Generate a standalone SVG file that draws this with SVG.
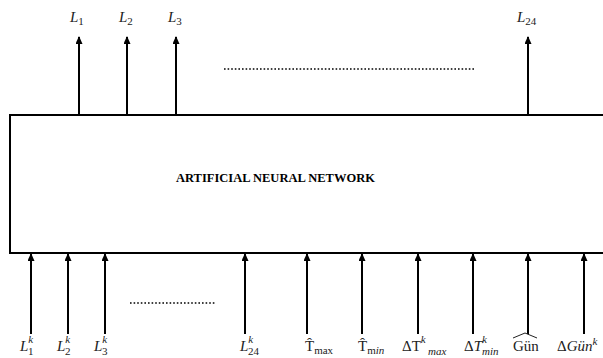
<svg xmlns="http://www.w3.org/2000/svg" width="603" height="358" viewBox="0 0 603 358">
<style>
.ln{stroke:#000;stroke-width:2;fill:none}
.dot{stroke:#000;stroke-width:1.6;stroke-dasharray:1.6 2;fill:none}
.lb{font-family:"Liberation Serif",serif;font-size:15px;fill:#222}
.it{font-style:italic}
.sb{font-size:11px}
.title{font-family:"Liberation Serif",serif;font-size:12.5px;font-weight:bold;fill:#000}
</style>
<defs>
<marker id="ah" viewBox="0 0 8 7" refX="7" refY="3.5" markerWidth="8" markerHeight="7" markerUnits="userSpaceOnUse" orient="auto">
<path d="M0,0 L8,3.5 L0,7 Z" fill="#000"/>
</marker>
</defs>
<g id="ann">
<path class="ln" d="M603,115 H10 V253 H603"/>
<text class="title" x="176" y="182">ARTIFICIAL NEURAL NETWORK</text>
</g>
<g id="connectors">
<line class="ln" x1="79" y1="115" x2="79" y2="37" marker-end="url(#ah)"/>
<line class="ln" x1="127" y1="115" x2="127" y2="37" marker-end="url(#ah)"/>
<line class="ln" x1="176" y1="115" x2="176" y2="37" marker-end="url(#ah)"/>
<line class="ln" x1="528" y1="115" x2="528" y2="37" marker-end="url(#ah)"/>
<line class="ln" x1="31" y1="334" x2="31" y2="254" marker-end="url(#ah)"/>
<line class="ln" x1="68" y1="334" x2="68" y2="254" marker-end="url(#ah)"/>
<line class="ln" x1="105" y1="334" x2="105" y2="254" marker-end="url(#ah)"/>
<line class="ln" x1="245" y1="334" x2="245" y2="254" marker-end="url(#ah)"/>
<line class="ln" x1="307" y1="334" x2="307" y2="254" marker-end="url(#ah)"/>
<line class="ln" x1="362" y1="334" x2="362" y2="254" marker-end="url(#ah)"/>
<line class="ln" x1="418" y1="334" x2="418" y2="254" marker-end="url(#ah)"/>
<line class="ln" x1="473" y1="334" x2="473" y2="254" marker-end="url(#ah)"/>
<line class="ln" x1="528" y1="334" x2="528" y2="254" marker-end="url(#ah)"/>
<line class="ln" x1="584" y1="334" x2="584" y2="254" marker-end="url(#ah)"/>
<line class="dot" x1="224" y1="69" x2="476" y2="69"/>
<line class="dot" x1="130" y1="303" x2="216" y2="303"/>
</g>
<g id="outputs">
<text class="lb" x="70" y="22"><tspan class="it">L</tspan><tspan class="sb" dy="3">1</tspan></text>
<text class="lb" x="119" y="22"><tspan class="it">L</tspan><tspan class="sb" dy="3">2</tspan></text>
<text class="lb" x="168" y="22"><tspan class="it">L</tspan><tspan class="sb" dy="3">3</tspan></text>
<text class="lb" x="517" y="22"><tspan class="it">L</tspan><tspan class="sb" dy="3">24</tspan></text>
</g>
<g id="inputs">
<text class="lb" x="20" y="351"><tspan class="it">L</tspan><tspan class="sb it" dy="-8">k</tspan><tspan class="sb" x="28" dy="12">1</tspan></text>
<text class="lb" x="57" y="351"><tspan class="it">L</tspan><tspan class="sb it" dy="-8">k</tspan><tspan class="sb" x="65" dy="12">2</tspan></text>
<text class="lb" x="94" y="351"><tspan class="it">L</tspan><tspan class="sb it" dy="-8">k</tspan><tspan class="sb" x="102" dy="12">3</tspan></text>
<text class="lb" x="240" y="351"><tspan class="it">L</tspan><tspan class="sb it" dy="-8">k</tspan><tspan class="sb" x="248" dy="12">24</tspan></text>
<text class="lb" x="305" y="351">T̂<tspan class="sb" dy="3">max</tspan></text>
<text class="lb" x="358" y="351">T̂<tspan class="sb" dy="3">m</tspan><tspan class="sb it">in</tspan></text>
<text class="lb" x="402" y="351">ΔT<tspan class="sb it" dy="-8">k</tspan><tspan class="sb it" x="428" dy="12">max</tspan></text>
<text class="lb" x="464" y="351">Δ<tspan class="it">T</tspan><tspan class="sb it" dy="-8">k</tspan><tspan class="sb it" x="482" dy="12">min</tspan></text>
<text class="lb" x="513" y="351">Gün</text>
<path d="M513,338 L525,333 L537,338" stroke="#222" stroke-width="1" fill="none"/>
<text class="lb" x="557" y="351">Δ<tspan class="it">Gün</tspan><tspan class="sb it" dy="-6">k</tspan></text>
</g>
</svg>
